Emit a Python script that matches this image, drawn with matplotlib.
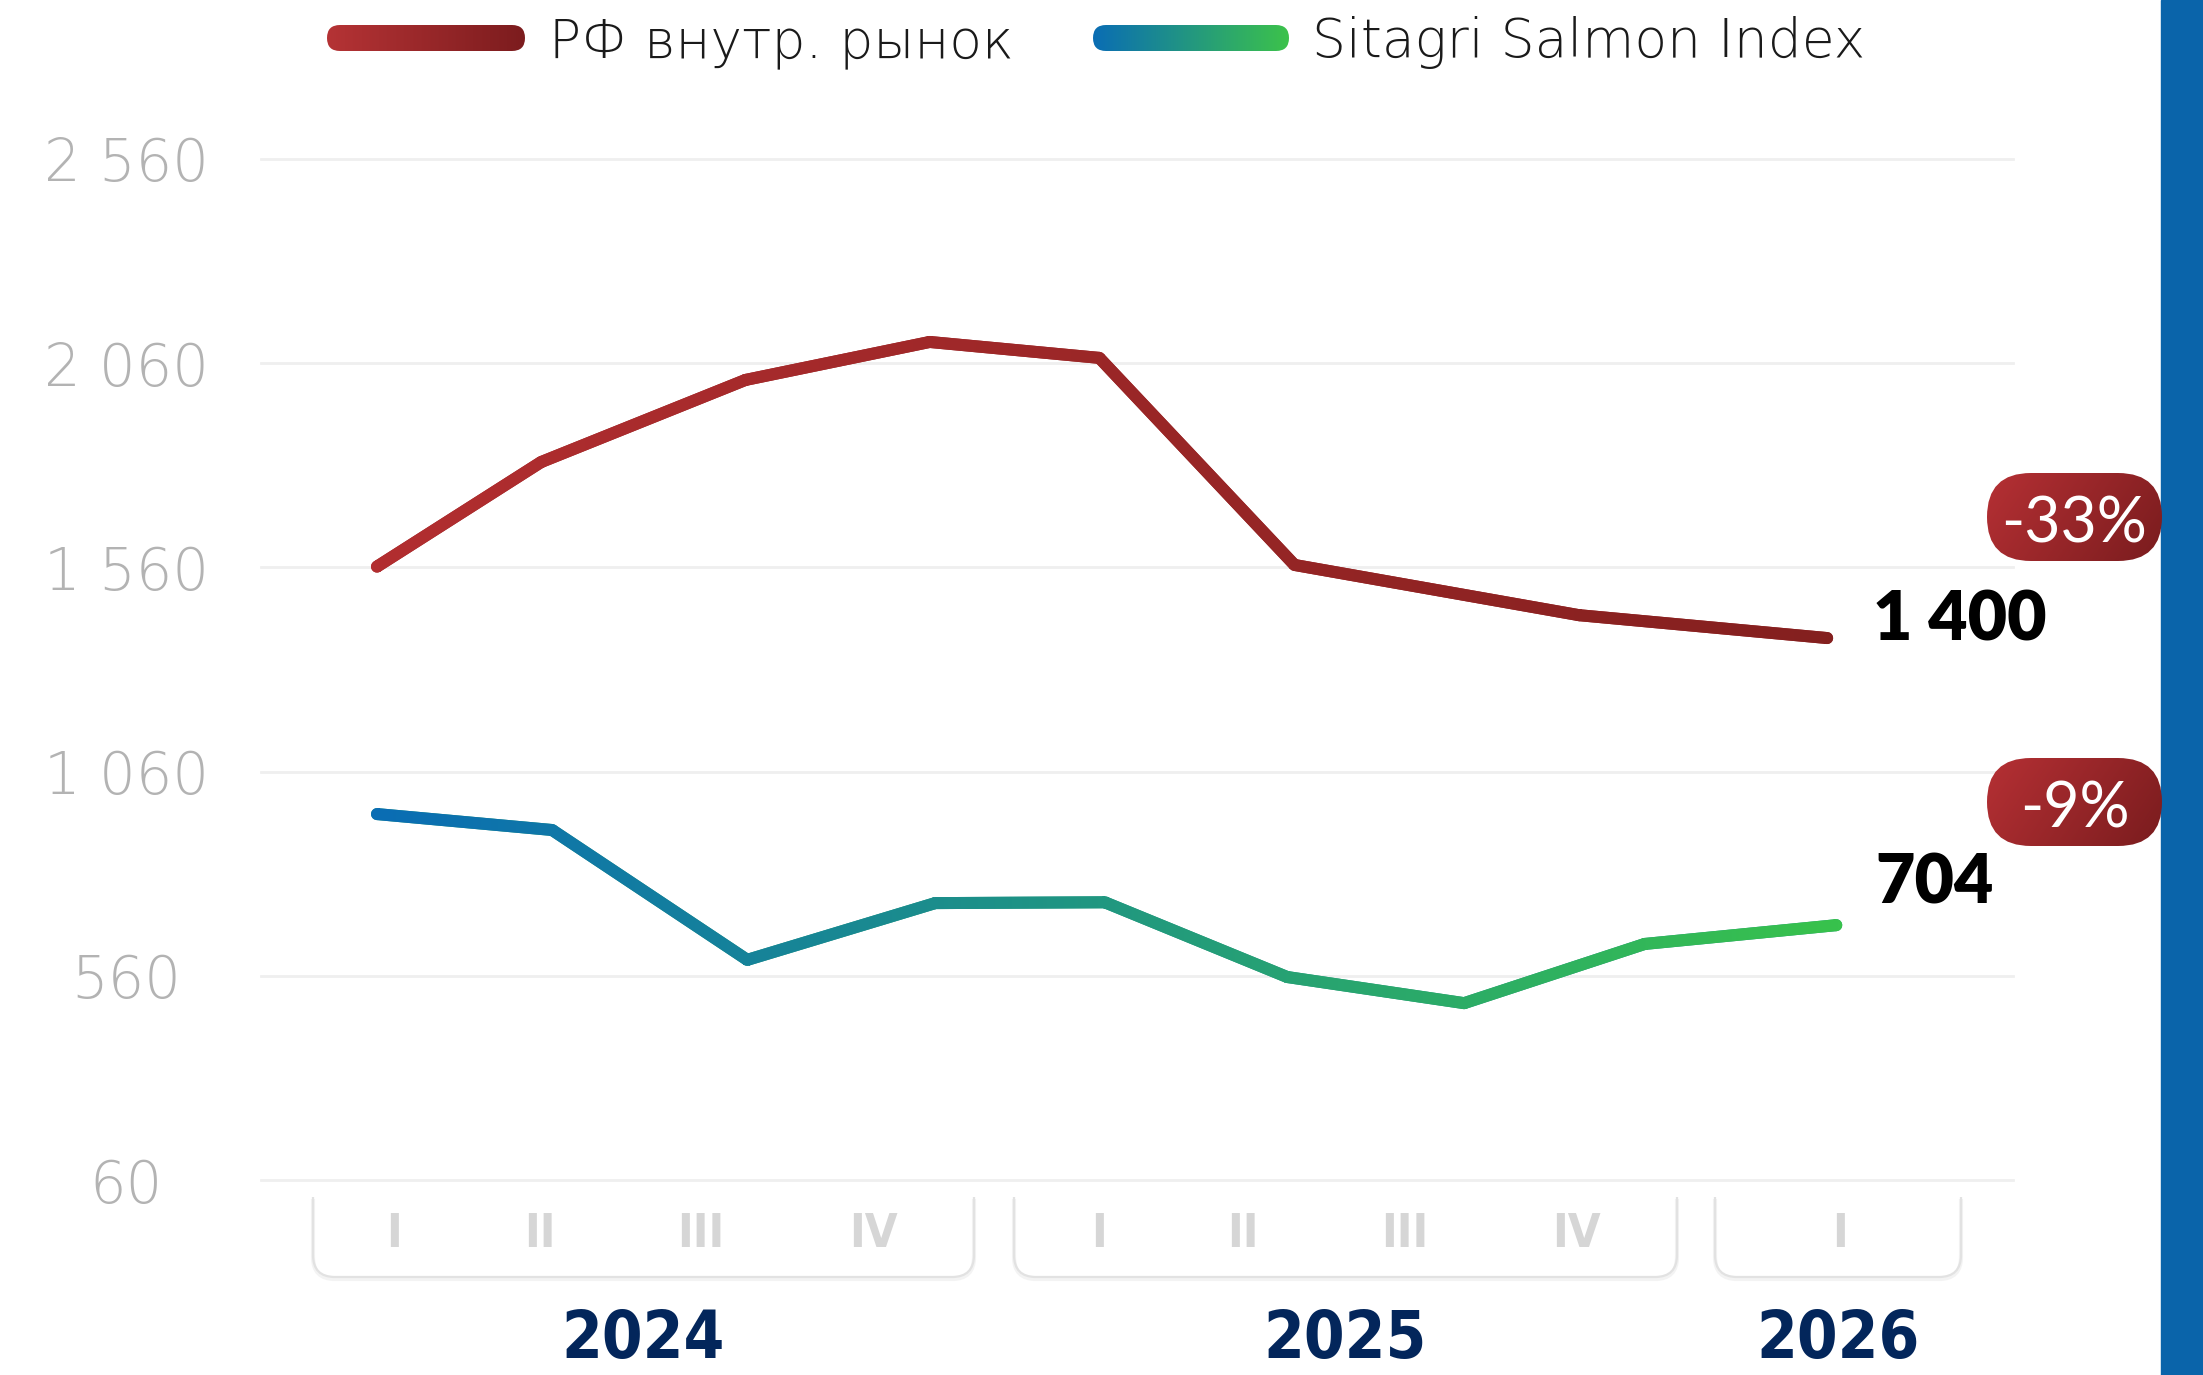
import numpy as np
import matplotlib.pyplot as plt
from matplotlib.path import Path
from matplotlib.patches import FancyBboxPatch, PathPatch, Rectangle
from matplotlib.transforms import IdentityTransform
from matplotlib.colors import to_rgb

# Data (x in quarters from 2024 Q1)
ru_x = [0, 0.9, 2.02, 3.03, 3.96, 5.03, 6.59, 7.95]
ru_price = [1562, 1818, 2019, 2112, 2073, 1566, 1443, 1387]
idx_x = [0, 0.96, 2.03, 3.06, 3.99, 4.99, 5.96, 6.95, 8]
idx_price = [956, 917, 599, 738, 740, 557, 493, 638, 684]

series_names = ["РФ внутр. рынок", "Sitagri Salmon Index"]
last_labels = ["1 400", "704"]
changes = ["-33%", "-9%"]
years = ["2024", "2025", "2026"]
quarters = ["I", "II", "III", "IV", "I", "II", "III", "IV", "I"]
y_ticks = [60, 560, 1060, 1560, 2060, 2560]

RED0, RED1 = "#b22e30", "#84201f"
BLUE0, BLUE1 = "#0a6db4", "#38c24c"

W, H = 2203, 1375
fig = plt.figure(figsize=(W / 100, H / 100), dpi=100)
fig.patch.set_facecolor("white")

ax = fig.add_axes([261 / W, 1 - 1180 / H, (2013 - 261) / W, (1180 - 159) / H])
XLIM = (-0.636, 8.969)
YLIM = (60, 2560)
ax.set_xlim(XLIM)
ax.set_ylim(YLIM)
for s in ax.spines.values():
    s.set_visible(False)
ax.set_xticks([])
ax.set_yticks(y_ticks)
ax.set_yticklabels([f"{v:,}".replace(",", " ") for v in y_ticks],
                   family="DejaVu Sans", weight="light", fontsize=41.5, color="#b3b3b3")
ax.tick_params(axis="y", length=0, pad=97)
for t in ax.get_yticklabels():
    t.set_horizontalalignment("center")
ax.grid(axis="y", color="#efefef", lw=2)
for gl in ax.get_ygridlines():
    gl.set_clip_on(False)


def blend(c0, c1, t):
    t = np.asarray(t)[..., None]
    return (1 - t) * np.array(to_rgb(c0)) + t * np.array(to_rgb(c1))


def gradient_line(x, y, c0, c1, lw_px=12):
    # plain line underneath, gradient image clipped to the stroke on top
    ax.plot(x, y, color=blend(c0, c1, 0.5), lw=lw_px * 0.72,
            solid_capstyle="round", solid_joinstyle="round", zorder=2)
    pts = ax.transData.transform(np.column_stack([x, y]))
    r = lw_px / 2
    parts = []
    for p, q in zip(pts[:-1], pts[1:]):
        d = (q - p) / np.hypot(*(q - p))
        n = np.array([-d[1], d[0]]) * r
        parts.append(Path([p - n, q - n, q + n, p + n, p - n], closed=True))
    ang = np.linspace(0, 2 * np.pi, 48)
    for p in pts:
        parts.append(Path(np.column_stack([p[0] + r * np.cos(ang), p[1] + r * np.sin(ang)]), closed=True))
    clip = Path.make_compound_path(*parts)
    xs = np.linspace(x[0] - 0.3, x[-1] + 0.3, 400)
    img = blend(c0, c1, np.clip((xs - x[0]) / (x[-1] - x[0]), 0, 1))[None].repeat(2, axis=0)
    im = ax.imshow(img, extent=(xs[0], xs[-1], YLIM[0], YLIM[1]), aspect="auto",
                   interpolation="bilinear", zorder=3)
    im.set_clip_path(clip, IdentityTransform())


gradient_line(ru_x, ru_price, RED0, RED1)
gradient_line(idx_x, idx_price, BLUE0, BLUE1)
ax.set_xlim(XLIM)
ax.set_ylim(YLIM)

# last values
ax.annotate(last_labels[0], xy=(ru_x[-1], ru_price[-1]), xytext=(46, -2), textcoords="offset pixels",
            ha="left", va="baseline", fontsize=49, weight="heavy", family="Lato",
            color="black", annotation_clip=False)
ax.annotate(last_labels[1], xy=(idx_x[-1], idx_price[-1]), xytext=(39, 22), textcoords="offset pixels",
            ha="left", va="baseline", fontsize=49, weight="heavy", family="Lato",
            color="black", annotation_clip=False)

# overlay in pixel coordinates for legend, category axis, badges
ov = fig.add_axes([0, 0, 1, 1])
ov.axis("off")


def gradient_box(x0, y0, w, h, c0, c1, diag=0.0):
    patch = FancyBboxPatch((x0, y0), w, h, boxstyle=f"round,pad=0,rounding_size={h / 2}",
                           fc="none", ec="none")
    ov.add_patch(patch)
    tx, ty = np.meshgrid(np.linspace(0, 1, 200), np.linspace(0, 1, 40))
    img = blend(c0, c1, np.clip((1 - diag) * tx + diag * ty, 0, 1))
    im = ov.imshow(img, extent=(x0, x0 + w, y0 + h, y0), aspect="auto", zorder=2)
    im.set_clip_path(patch)


# legend
gradient_box(327, 25, 198, 26, "#b53335", "#7c1c1e")
gradient_box(1093, 25, 196, 26, BLUE0, "#3cc24b")
ov.text(549, 57, series_names[0], fontsize=38.5, family="DejaVu Sans", weight="light",
        color="#1a1a1a", va="baseline")
ov.text(1312, 57, series_names[1], fontsize=38.5, family="DejaVu Sans", weight="light",
        color="#1a1a1a", va="baseline")

# category axis: brackets, quarters, years
br_left = [313, 1014, 1715]
br_right = [974, 1677, 1961]
q_pos = [394, 540, 701, 873, 1099, 1243, 1405, 1576, 1840]
top, bottom, rad = 1197, 1277, 22
for x0, x1, yr in zip(br_left, br_right, years):
    verts = [(x0, top), (x0, bottom - rad), (x0, bottom), (x0 + rad, bottom),
             (x1 - rad, bottom), (x1, bottom), (x1, bottom - rad), (x1, top)]
    codes = [Path.MOVETO, Path.LINETO, Path.CURVE3, Path.CURVE3,
             Path.LINETO, Path.CURVE3, Path.CURVE3, Path.LINETO]
    shadow = [(vx, vy + 2) for vx, vy in verts]
    ov.add_patch(PathPatch(Path(shadow, codes), fc="none", ec="#f3f3f3", lw=3))
    ov.add_patch(PathPatch(Path(verts, codes), fc="none", ec="#e2e2e2", lw=1.6))
    ov.text((x0 + x1) / 2, 1358, yr, ha="center", va="baseline", fontsize=47,
            family="DejaVu Sans", weight="bold", fontstretch="condensed", color="#03265b")
for xq, q in zip(q_pos, quarters):
    ov.text(xq, 1247, q, ha="center", va="baseline", fontsize=34,
            family="DejaVu Sans", weight="bold", fontstretch="condensed", color="#d6d6d6")

# right blue bar
ov.add_patch(Rectangle((2161, 0), W - 2161, H, color="#0a64aa", zorder=1))

# change badges
for y0, base, txt in zip([473, 758], [542, 827], changes):
    gradient_box(1987, y0, 175, 88, "#b53034", "#7a1c1e", diag=0.25)
    ov.text(1987 + 87.5, base, txt, ha="center", va="baseline", fontsize=45,
            family="Lato", color="white", zorder=3)

ov.set_xlim(0, W)
ov.set_ylim(H, 0)

fig.savefig("out.png", dpi=100)
